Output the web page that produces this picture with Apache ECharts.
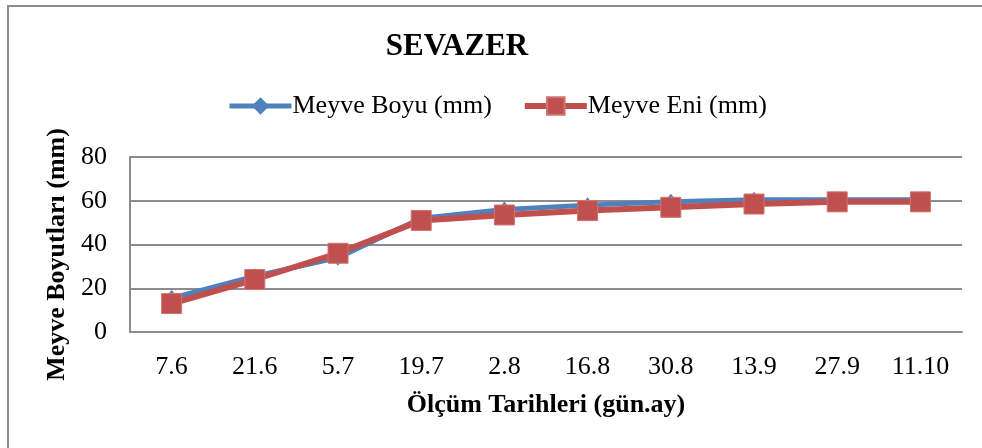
<!DOCTYPE html>
<html>
<head>
<meta charset="utf-8">
<script src="https://cdn.jsdelivr.net/npm/echarts@6/dist/echarts.min.js"></script>
<style>
  html, body { margin: 0; padding: 0; background: #ffffff; }
  #chart { width: 982px; height: 448px; }
</style>
</head>
<body>
<div id="chart"></div>
<script>
// Measurement dates (day.month)
const dates = ['7.6', '21.6', '5.7', '19.7', '2.8', '16.8', '30.8', '13.9', '27.9', '11.10'];
// Fruit length and width, mm
const meyveBoyu = [15.5, 25.5, 34, 52, 56, 58, 59.5, 60.5, 60.5, 60.5];
const meyveEni  = [13, 24, 36, 51, 53.5, 55.5, 57, 58.5, 59.5, 59.5];
// Value axis ticks
const yTicks = [0, 20, 40, 60, 80];

const FONT = '"Liberation Serif", "Times New Roman", serif';
const BLUE = '#4F81BD';
const RED = '#C0504D';
const GRID = '#8c8c8c';

const chart = echarts.init(document.getElementById('chart'), null, { renderer: 'canvas' });

chart.setOption({
  backgroundColor: '#ffffff',
  animation: false,
  graphic: [{
    type: 'rect',
    shape: { x: 8, y: 6, width: 1000, height: 460 },
    style: { fill: 'none', stroke: GRID, lineWidth: 2 },
    silent: true
  }],
  title: {
    text: 'SEVAZER',
    left: 452,
    top: 26,
    textAlign: 'center',
    textStyle: { fontFamily: FONT, fontSize: 31, fontWeight: 'bold', color: '#000' }
  },
  legend: {
    top: 88,
    left: 222,
    itemWidth: 62,
    itemHeight: 22,
    itemGap: 30,
    textStyle: { fontFamily: FONT, fontSize: 26, color: '#000', padding: [0, 0, 0, -4] },
    data: [
      { name: 'Meyve Boyu (mm)', lineStyle: { width: 5, color: BLUE }, itemStyle: { color: BLUE } },
      { name: 'Meyve Eni (mm)', lineStyle: { width: 6, color: RED }, itemStyle: { color: RED } }
    ]
  },
  grid: { left: 130, right: 20, top: 157, bottom: 116, containLabel: false },
  xAxis: {
    type: 'category',
    data: dates,
    boundaryGap: true,
    name: 'Ölçüm Tarihleri (gün.ay)',
    nameLocation: 'middle',
    nameGap: 60,
    nameTextStyle: { fontFamily: FONT, fontSize: 26, fontWeight: 'bold', color: '#000' },
    axisLine: { lineStyle: { color: GRID, width: 2 } },
    axisTick: { show: false },
    axisLabel: { fontFamily: FONT, fontSize: 26, color: '#000', margin: 22 }
  },
  yAxis: {
    type: 'value',
    min: yTicks[0],
    max: yTicks[yTicks.length - 1],
    interval: yTicks[1] - yTicks[0],
    name: 'Meyve Boyutları (mm)',
    nameLocation: 'middle',
    nameGap: 60,
    nameTextStyle: { fontFamily: FONT, fontSize: 26, fontWeight: 'bold', color: '#000', padding: [0, 0, 0, -20] },
    axisLine: { show: true, lineStyle: { color: GRID, width: 2 } },
    axisTick: { show: false },
    axisLabel: { fontFamily: FONT, fontSize: 26, color: '#000', margin: 23 },
    splitLine: { show: true, lineStyle: { color: GRID, width: 2 } }
  },
  series: [
    {
      name: 'Meyve Boyu (mm)',
      type: 'line',
      data: meyveBoyu,
      symbol: 'diamond',
      symbolSize: [13, 16],
      lineStyle: { color: BLUE, width: 5 },
      itemStyle: { color: BLUE },
      z: 2
    },
    {
      name: 'Meyve Eni (mm)',
      type: 'line',
      data: meyveEni,
      symbol: 'rect',
      symbolSize: 20,
      lineStyle: { color: RED, width: 6 },
      itemStyle: { color: RED, borderColor: '#d07370', borderWidth: 1 },
      z: 3
    }
  ]
});
</script>
</body>
</html>
